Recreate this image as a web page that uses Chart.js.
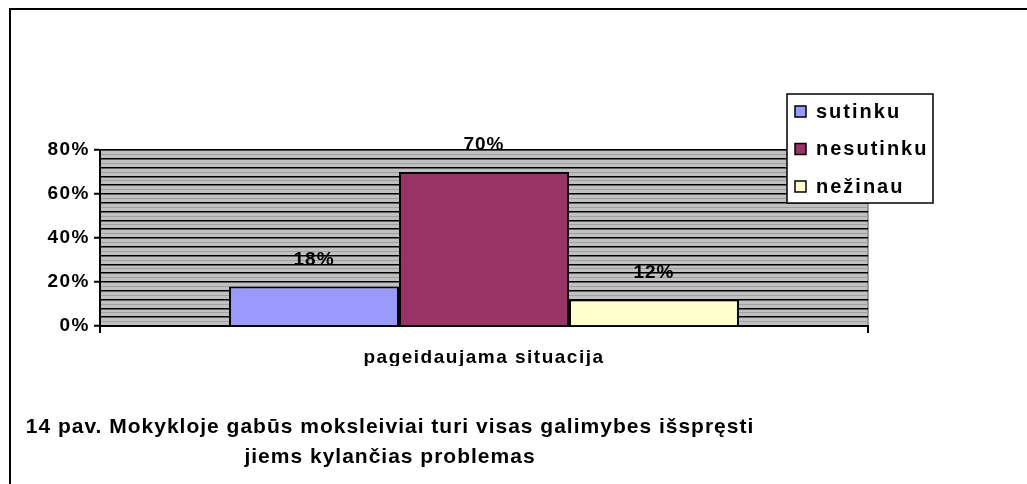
<!DOCTYPE html>
<html>
<head>
<meta charset="utf-8">
<script src="https://cdn.jsdelivr.net/npm/chart.js@4"></script>
<style>
  html, body { margin: 0; padding: 0; background: #fff; }
  #wrap { width: 1027px; height: 484px; }
</style>
</head>
<body>
<div id="wrap"><canvas id="myChart" width="1027" height="484"></canvas></div>
<script>
// data
const categories = ["pageidaujama situacija"];
const seriesNames = ["sutinku", "nesutinku", "nežinau"];
const seriesValues = [[18], [70], [12]];
const seriesColors = ["#9999FF", "#993366", "#FFFFCC"];
const captionLines = [
  "14 pav. Mokykloje gabūs moksleiviai turi visas galimybes išspręsti",
  "jiems kylančias problemas"
];

Chart.defaults.font.family = "'Liberation Sans', Arial, sans-serif";
Chart.defaults.font.weight = "bold";
Chart.defaults.font.size = 19;
Chart.defaults.color = "#000";

// canvas letter spacing (resets when the canvas is resized, so set it again)
const spacing = {
  id: 'spacing',
  beforeLayout: (c) => { c.ctx.letterSpacing = '1.5px'; },
  beforeDraw: (c) => { c.ctx.letterSpacing = '1.5px'; }
};

// frame + gray plot background
const background = {
  id: 'background',
  beforeDraw(c) {
    const ctx = c.ctx, a = c.chartArea;
    ctx.save();
    ctx.strokeStyle = '#000';
    ctx.lineWidth = 2;
    ctx.beginPath();
    ctx.moveTo(10, 484);
    ctx.lineTo(10, 9);
    ctx.lineTo(1027, 9);
    ctx.stroke();
    ctx.fillStyle = '#C0C0C0';
    ctx.fillRect(a.left, a.top, a.right - a.left, a.bottom - a.top);
    ctx.strokeStyle = '#808080';
    ctx.lineWidth = 1.5;
    ctx.strokeRect(a.left, a.top, a.right - a.left, a.bottom - a.top);
    ctx.restore();
  }
};

// value labels above bars
const valueLabels = {
  id: 'valueLabels',
  afterDatasetsDraw(c) {
    const ctx = c.ctx;
    ctx.save();
    ctx.letterSpacing = '1px';
    ctx.font = "bold 19px 'Liberation Sans', Arial, sans-serif";
    ctx.fillStyle = '#000';
    ctx.textAlign = 'center';
    ctx.textBaseline = 'middle';
    c.data.datasets.forEach((ds, i) => {
      c.getDatasetMeta(i).data.forEach((el, j) => {
        ctx.fillText(ds.data[j] + '%', el.x, el.y - 27);
      });
    });
    ctx.restore();
  }
};

// legend box inside the frame, and the caption
const boxLegend = {
  id: 'boxLegend',
  afterDraw(c) {
    const ctx = c.ctx;
    ctx.save();
    const x = 787, y = 94, w = 146, h = 109;
    ctx.fillStyle = '#fff';
    ctx.fillRect(x, y, w, h);
    ctx.strokeStyle = '#000';
    ctx.lineWidth = 1.5;
    ctx.strokeRect(x, y, w, h);
    ctx.letterSpacing = '2px';
    ctx.font = "bold 20px 'Liberation Sans', Arial, sans-serif";
    ctx.textBaseline = 'middle';
    c.data.datasets.forEach((ds, i) => {
      const cy = 111 + i * 37.5;
      ctx.fillStyle = ds.backgroundColor;
      ctx.fillRect(795, cy - 5, 11, 11);
      ctx.lineWidth = 1.5;
      ctx.strokeRect(795, cy - 5, 11, 11);
      ctx.fillStyle = '#000';
      ctx.fillText(ds.label, 816, cy + 1);
    });

    ctx.letterSpacing = '1px';
    ctx.font = "bold 21px 'Liberation Sans', Arial, sans-serif";
    ctx.textAlign = 'center';
    ctx.fillText(captionLines[0], 390, 427);
    ctx.fillText(captionLines[1], 390, 457);
    ctx.restore();
  }
};

const datasets = seriesNames.map((name, i) => ({
  label: name,
  data: seriesValues[i],
  backgroundColor: seriesColors[i],
  borderColor: '#000',
  borderWidth: 2,
  barPercentage: 1,
  categoryPercentage: 0.664
}));

new Chart(document.getElementById('myChart'), {
  type: 'bar',
  data: { labels: categories, datasets: datasets },
  plugins: [spacing, background, valueLabels, boxLegend],
  options: {
    responsive: false,
    animation: false,
    layout: { padding: { left: 10, right: 159, top: 150, bottom: 118 } },
    plugins: {
      legend: { display: false },
      tooltip: { enabled: false }
    },
    scales: {
      x: {
        grid: { drawOnChartArea: false, drawTicks: true, tickLength: 7, tickColor: '#000', lineWidth: 2 },
        border: { display: true, color: '#000', width: 2 },
        ticks: { padding: 13, font: { size: 19, weight: 'bold' } },
        afterFit: (s) => { s.height = 40; }
      },
      y: {
        min: 0,
        max: 80,
        grid: {
          color: (ctx) => (ctx.tick && ctx.tick.value % 4 === 0) ? '#000' : '#a0a0a0',
          lineWidth: (ctx) => (ctx.tick && ctx.tick.value % 4 === 0) ? 1.5 : 1,
          tickColor: (ctx) => (ctx.tick && ctx.tick.value % 20 === 0) ? '#000' : 'rgba(0,0,0,0)',
          tickLength: 6,
          tickWidth: 2
        },
        border: { display: true, color: '#000', width: 2 },
        ticks: {
          stepSize: 2,
          autoSkip: false,
          maxTicksLimit: 100,
          padding: 4,
          font: { size: 19, weight: 'bold' },
          callback: (v) => v % 20 === 0 ? v + '%' : ''
        },
        afterFit: (s) => { s.width = 90; }
      }
    }
  }
});
</script>
</body>
</html>
